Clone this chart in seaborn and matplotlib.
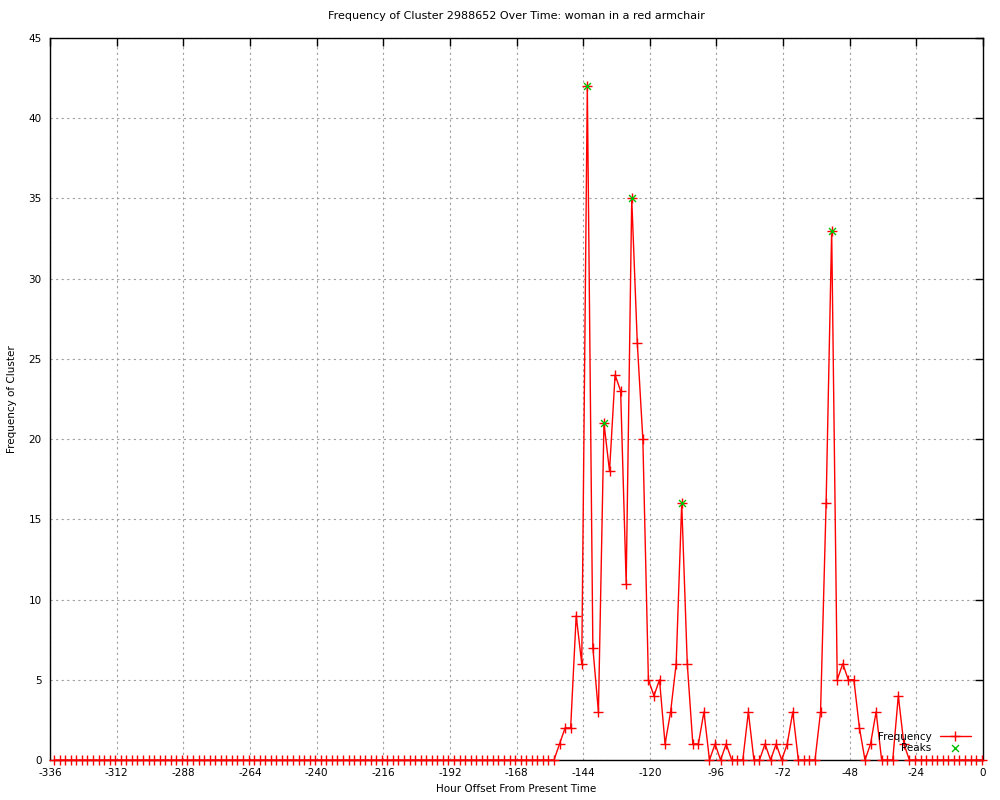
import numpy as np
import pandas as pd
import seaborn as sns
import matplotlib
matplotlib.use("Agg")
import matplotlib.pyplot as plt

# two-hour bins, centre of each bin in hours before now
horas = np.arange(-334.5, 0, 2)

# frequency per bin (oldest first)
freq_antes = [0] * 91          # -334.5 .. -154.5, nothing seen
freq_ativa = [1, 2, 2, 9, 6, 42, 7, 3, 21, 18,
              24, 23, 11, 35, 26, 20, 5, 4, 5, 1,
              3, 6, 16, 6, 1, 1, 3, 0, 1, 0,
              1, 0, 0, 0, 3, 0, 0, 1, 0, 1,
              0, 1, 3, 0, 0, 0, 0, 3, 16, 33,
              5, 6, 5, 5, 2, 0, 1, 3, 0, 0,
              0, 4, 1]           # -152.5 .. -28.5
freq_depois = [0] * 14         # -26.5 .. -0.5
frequencia = freq_antes + freq_ativa + freq_depois

picos_x = [-142.5, -136.5, -126.5, -108.5, -54.5]
picos_y = [42, 21, 35, 16, 33]

dados = pd.DataFrame({'hora': horas, 'freq': frequencia})
picos = pd.DataFrame({'hora': picos_x, 'freq': picos_y})

sns.set_style("white")
plt.rcParams['font.family'] = ['DejaVu Sans']
plt.rcParams['axes.unicode_minus'] = False
plt.rcParams['text.color'] = 'black'
plt.rcParams['xtick.labelcolor'] = 'black'
plt.rcParams['ytick.labelcolor'] = 'black'
plt.rcParams['axes.labelcolor'] = 'black'

fig = plt.figure(figsize=(10, 8), dpi=100)
ax = fig.add_axes([0.05, 0.05, 0.933, 0.9025])

sns.lineplot(data=dados, x='hora', y='freq', ax=ax, color='red', linewidth=1,
             marker='+', markersize=7, markeredgewidth=1, markeredgecolor='red',
             label='Frequency', clip_on=False, zorder=4)
sns.scatterplot(data=picos, x='hora', y='freq', ax=ax, color='#00c000', marker='x',
                s=25, linewidth=1, label='Peaks', zorder=5)

ax.set_xlim(-336, 0)
ax.set_ylim(0, 45)
ax.set_xticks(range(-336, 1, 24))
ax.set_yticks(range(0, 46, 5))
ax.grid(True, linestyle=(0, (2, 3)), color='#a0a0a0', linewidth=0.8)
ax.tick_params(direction='in', length=6, width=1, top=True, right=True,
               labelsize=7.5, pad=6, color='black')
for s in ax.spines.values():
    s.set_color('black')
    s.set_linewidth(1)

ax.set_title('Frequency of Cluster 2988652 Over Time: woman in a red armchair',
             fontsize=8, pad=14)
ax.set_xlabel('Hour Offset From Present Time', fontsize=7.5, labelpad=4)
ax.set_ylabel('Frequency of Cluster', fontsize=7.5, labelpad=8)

ax.legend(loc='lower right', markerfirst=False, frameon=False, fontsize=7.5,
          handlelength=3, borderaxespad=0.3, labelspacing=0.1,
          bbox_to_anchor=(0.995, 0.0))

fig.savefig('out.png', dpi=100)
